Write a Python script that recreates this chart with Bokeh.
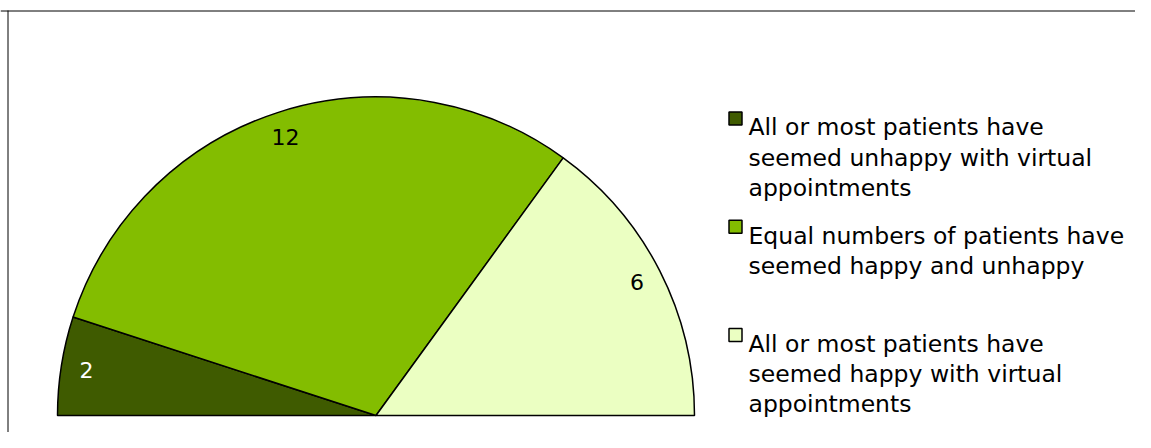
import math
from bokeh.plotting import figure
from bokeh.models import Range1d, Span, ColumnDataSource
from bokeh.core.properties import value
from bokeh.embed import file_html
from bokeh.resources import INLINE

# ---- data ----
categories = [
    "All or most patients have seemed unhappy with virtual appointments",
    "Equal numbers of patients have seemed happy and unhappy",
    "All or most patients have seemed happy with virtual appointments",
]
legend_lines = [
    ["All or most patients have", "seemed unhappy with virtual", "appointments"],
    ["Equal numbers of patients have", "seemed happy and unhappy"],
    ["All or most patients have", "seemed happy with virtual", "appointments"],
]
values = [2, 12, 6]
colors = ["#3F5B00", "#83BD00", "#EBFFC2"]
label_colors = ["white", "black", "black"]

# ---- layout (x = pixel from left, y = H - pixel from top) ----
W, H = 1135, 432
def sy(y):
    return H - y

CX, CY, R = 375.5, sy(415), 318.5
FONT = "DejaVu Sans"

p = figure(width=W, height=H, x_range=Range1d(0, W), y_range=Range1d(0, H),
           output_backend="svg", toolbar_location=None,
           x_axis_location=None, y_axis_location=None, min_border=0)
p.grid.visible = False
p.outline_line_color = None
p.background_fill_color = "white"
p.border_fill_color = "white"

total = sum(values)
starts, ends, lx, ly = [], [], [], []
cum = 0
for v in values:
    a_end = math.pi * (1 - cum / total)
    cum += v
    a_start = math.pi * (1 - cum / total)
    starts.append(a_start)
    ends.append(a_end)
    mid = (a_start + a_end) / 2
    lx.append(CX + 0.92 * R * math.cos(mid))
    ly.append(CY + 0.92 * R * math.sin(mid))

src = ColumnDataSource(dict(x=[CX] * len(values), y=[CY] * len(values),
                            start=starts, end=ends, color=colors, cat=categories,
                            lx=lx, ly=ly, txt=[str(v) for v in values], tc=label_colors))

p.wedge(x="x", y="y", radius=R, start_angle="start", end_angle="end", direction="anticlock",
        fill_color="color", line_color="black", line_width=1.5, source=src)

p.text(x="lx", y="ly", text="txt", text_color="tc", source=src, text_align="center",
       text_baseline="middle", text_font=value(FONT), text_font_size="22px")

# legend
LX_BOX, LX_TXT = 735, 748
first_base = 126.7
slot = 108.3
line_h = 30.3
bx, by, tx, ty, tt = [], [], [], [], []
for i, lines in enumerate(legend_lines):
    b0 = first_base + i * slot
    bx.append(LX_BOX)
    by.append(sy(b0 - 8.7))
    for j, line in enumerate(lines):
        tx.append(LX_TXT)
        ty.append(sy(b0 + j * line_h))
        tt.append(line)

p.rect(x=bx, y=by, width=13, height=13, fill_color=colors, line_color="black", line_width=1.5)
p.text(x=tx, y=ty, text=tt, text_align="left", text_baseline="alphabetic",
       text_font=value(FONT), text_font_size="23.5px", text_color="black")

# chart border (left and top visible)
p.segment(x0=[7.5], y0=[sy(10)], x1=[7.5], y1=[-5], line_color="black", line_width=1)
p.add_layout(Span(location=sy(10.5), dimension="width", line_color="black", line_width=1))

open("out.html", "w").write(file_html(p, INLINE))
